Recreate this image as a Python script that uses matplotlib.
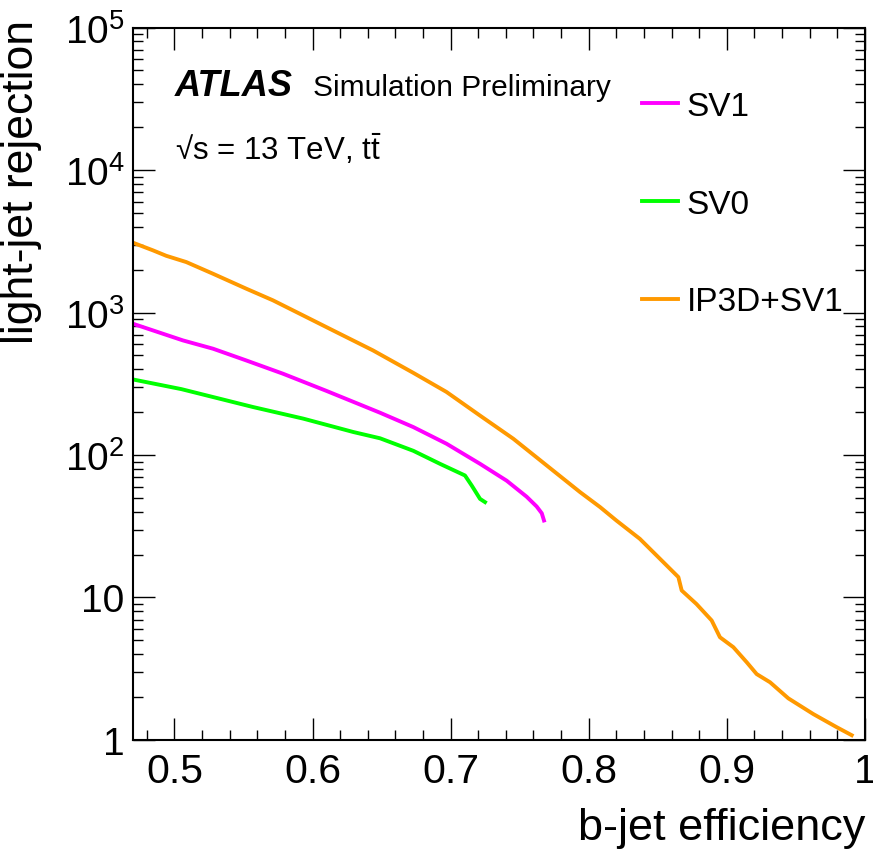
import matplotlib
matplotlib.use("Agg")
import matplotlib.pyplot as plt
from matplotlib.ticker import MultipleLocator, LogLocator, FixedLocator, FixedFormatter

plt.rcParams['font.family'] = ['Liberation Sans', 'DejaVu Sans']
plt.rcParams['mathtext.fontset'] = 'custom'
plt.rcParams['mathtext.rm'] = 'Liberation Sans'
plt.rcParams['mathtext.it'] = 'Liberation Sans:italic'

# b-jet efficiency / light-jet rejection
eff_ip3d = [0.470, 0.4845, 0.4941, 0.5086, 0.528, 0.552, 0.5714, 0.5907, 0.6148, 0.6438,
            0.673, 0.697, 0.7213, 0.7454, 0.7696, 0.7937, 0.8082, 0.820, 0.837, 0.854,
            0.8649, 0.8673, 0.878, 0.889, 0.895, 0.9047, 0.9144, 0.9216, 0.9313, 0.9445,
            0.9626, 0.9795, 0.9904]
rej_ip3d = [3090, 2730, 2500, 2260, 1870, 1470, 1217, 981, 749, 542,
            377, 277, 189, 130, 84.4, 54.9, 43.1, 34.7, 25.8, 17.7,
            13.9, 11.2, 9.0, 6.9, 5.26, 4.48, 3.51, 2.90, 2.54, 1.96,
            1.52, 1.23, 1.08]

eff_sv1 = [0.470, 0.5062, 0.528, 0.552, 0.5786, 0.610, 0.6489, 0.673, 0.697, 0.7213,
           0.7406, 0.755, 0.7623, 0.7660, 0.7676]
rej_sv1 = [834, 637, 557, 461, 372, 282, 198, 157, 120, 86.7,
           66, 51, 43.5, 39, 34.7]

eff_sv0 = [0.470, 0.505, 0.557, 0.5933, 0.6295, 0.6489, 0.673, 0.6923, 0.7104, 0.7153,
           0.7213, 0.7249]
rej_sv0 = [339, 290, 217, 180, 145, 131, 107, 86.7, 71.8, 61,
           49.2, 46.7]

fig = plt.figure(figsize=(8.73, 8.62), dpi=100)
ax = fig.add_axes([0.1523, 0.1404, 0.8385, 0.8265])

ax.plot(eff_sv1, rej_sv1, color='#ff00ff', lw=2.8, label='SV1')
ax.plot(eff_sv0, rej_sv0, color='#00ff00', lw=2.8, label='SV0')
ax.plot(eff_ip3d, rej_ip3d, color='#ff9900', lw=2.8, label='IP3D+SV1')

ax.set_yscale('log')
ax.set_xlim(0.47, 1.0)
ax.set_ylim(1, 1e5)

ax.xaxis.set_major_locator(FixedLocator([0.5, 0.6, 0.7, 0.8, 0.9, 1.0]))
ax.xaxis.set_major_formatter(FixedFormatter(['0.5', '0.6', '0.7', '0.8', '0.9', '1']))
ax.xaxis.set_minor_locator(MultipleLocator(0.02))
ax.yaxis.set_major_locator(FixedLocator([1, 10, 100, 1e3, 1e4, 1e5]))
ax.yaxis.set_major_formatter(FixedFormatter(['1', '10', r'$10^{2}$', r'$10^{3}$', r'$10^{4}$', r'$10^{5}$']))
ax.yaxis.set_minor_locator(LogLocator(base=10, subs=range(2, 10), numticks=20))

ax.tick_params(which='both', direction='in', top=True, right=True, width=1.0, colors='black')
ax.tick_params(which='major', length=15.5)
ax.tick_params(which='minor', length=7.5)
ax.tick_params(axis='x', which='major', labelsize=29.5, pad=9)
ax.tick_params(axis='y', which='major', labelsize=28, pad=6)
for s in ax.spines.values():
    s.set_linewidth(1.5)

ax.set_xlabel('b-jet efficiency', fontsize=32.5, ha='right')
ax.xaxis.set_label_coords(1.0, -0.094)
ax.set_ylabel('light-jet rejection', fontsize=32, ha='right')
ax.yaxis.set_label_coords(-0.124, 1.012)

ax.text(0.057, 0.906, 'ATLAS', transform=ax.transAxes, fontsize=26,
        fontweight='bold', fontstyle='italic')
ax.text(0.246, 0.906, 'Simulation Preliminary', transform=ax.transAxes, fontsize=21.5)
ax.text(0.057, 0.815, '√s = 13 TeV, t$\\bar{\\mathrm{t}}$', transform=ax.transAxes, fontsize=22.5)

ax.legend(loc='upper left', bbox_to_anchor=(0.695, 0.911), frameon=False, fontsize=24,
          handlelength=1.1, handletextpad=0.25, labelspacing=2.0, borderpad=0,
          borderaxespad=0)

fig.savefig('out.png', dpi=100)
